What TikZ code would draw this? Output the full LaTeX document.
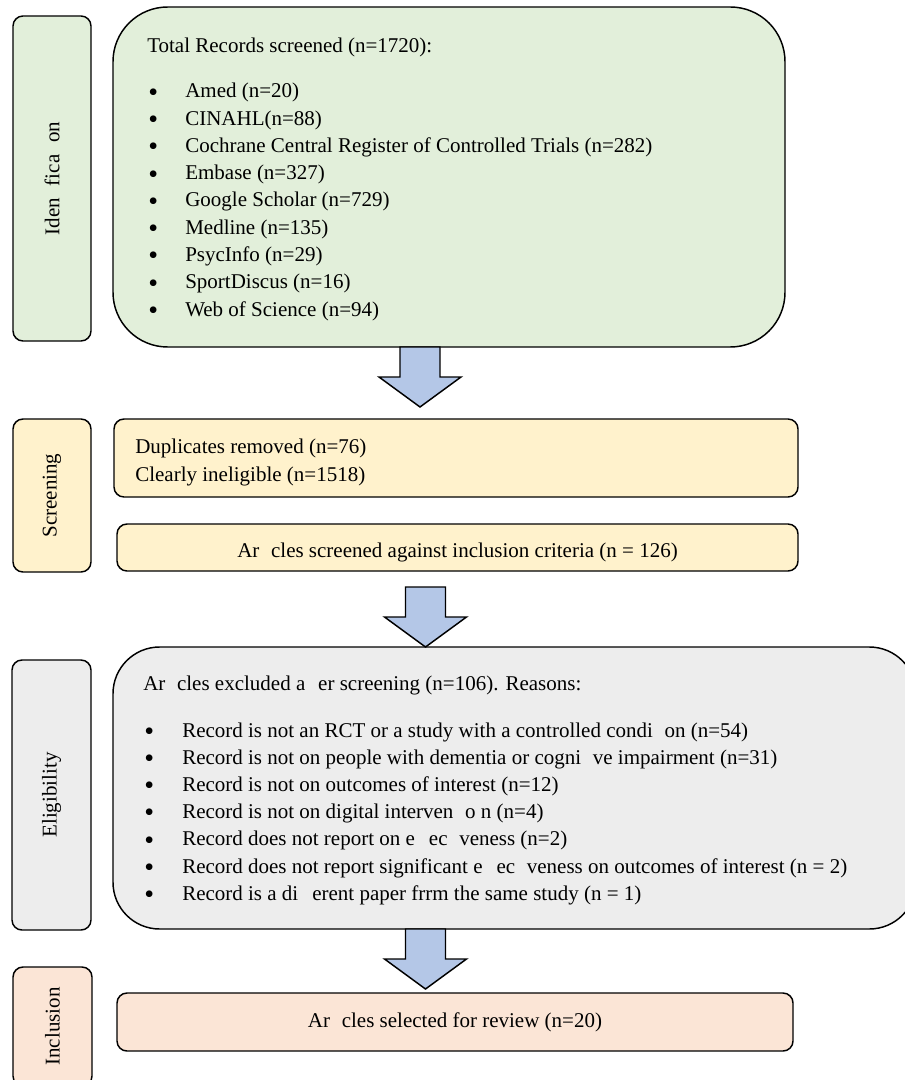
\documentclass[tikz,border=0pt]{standalone}
\usepackage{fontspec}
\setmainfont{Liberation Serif}
\usetikzlibrary{fit}
\newcommand{\gapti}{\hspace{0.556em}}
\newcommand{\gapft}{\hspace{0.611em}}
\newcommand{\gapff}{\hspace{0.666em}}
\newcommand{\bigbullet}{\raisebox{-2.5pt}{\fontsize{21}{21}\selectfont\textbullet}}
\tikzset{
  stagebox/.style={draw, line width=1.1pt, rounded corners=7.5pt, inner sep=0pt},
  bigbox/.style={draw, line width=1.1pt, inner sep=0pt},
  greenfill/.style={fill={rgb, 255:red, 226; green, 239; blue, 218}},
  yellowfill/.style={fill={rgb, 255:red, 255; green, 242; blue, 204}},
  greyfill/.style={fill={rgb, 255:red, 237; green, 237; blue, 237}},
  peachfill/.style={fill={rgb, 255:red, 251; green, 229; blue, 214}},
  blockarrow/.style={draw, line width=1.1pt, line join=miter, fill={rgb, 255:red, 180; green, 199; blue, 231}},
  textline/.style={anchor=base west, inner sep=0pt},
  centerline/.style={anchor=base, inner sep=0pt}
}
\begin{document}
\begin{tikzpicture}[x=0.75pt,y=0.75pt,yscale=-1,xscale=1,font=\fontsize{15.75}{20.4}\selectfont]
\useasboundingbox (0,0) rectangle (905,1080);
% stage labels
\node[stagebox, greenfill, fit={(13,16) (91,341)}] (idlbl) {};
\node[stagebox, yellowfill, fit={(13,419) (91,572)}] (scrlbl) {};
\node[stagebox, greyfill, fit={(12,660) (91,930)}] (eliglbl) {};
\node[stagebox, peachfill, fit={(13,967) (92,1086)}] (incllbl) {};
\node[rotate=90] (idtxt) at (idlbl.center) {Iden\gapti fica\gapti on};
\node[rotate=90] (scrtxt) at (scrlbl.center) {Screening};
\node[rotate=90] (eligtxt) at (eliglbl.center) {Eligibility};
\node[rotate=90] (incltxt) at (incllbl.center) {Inclusion};
% content boxes
\node[bigbox, rounded corners=41pt, greenfill, fit={(113,7) (785,347)}] (records) {};
\node[stagebox, yellowfill, fit={(114,419) (798,497)}] (removed) {};
\node[stagebox, yellowfill, fit={(117,524) (798,571)}] (screened) {};
\node[bigbox, rounded corners=35pt, greyfill, fit={(113,647) (916,929)}] (excluded) {};
\node[stagebox, peachfill, fit={(117,993) (793,1051)}] (selected) {};
% records
\node[textline] (rectitle) at (147,53) {Total Records screened (n=1720):};
\foreach \txt [count=\i] in {{Amed (n=20)}, {CINAHL(n=88)}, {Cochrane Central Register of Controlled Trials (n=282)}, {Embase (n=327)}, {Google Scholar (n=729)}, {Medline (n=135)}, {PsycInfo (n=29)}, {SportDiscus (n=16)}, {Web of Science (n=94)}}
  \node[textline] (rec\i) at (148,{98+27.25*(\i-1)}) {\makebox[27.75pt][l]{\bigbullet}\txt};
% screening
\node[textline] (dup) at (135,453) {Duplicates removed (n=76)};
\node[textline] (inel) at (135,481) {Clearly ineligible (n=1518)};
\node[centerline] (scrtext) at (457.5,557) {Ar\gapti cles screened against inclusion criteria (n = 126)};
% eligibility
\node[textline] (exctitle) at (143,690) {Ar\gapti cles excluded a\gapft er screening (n=106). Reasons:};
\foreach \txt [count=\i] in {{Record is not an RCT or a study with a controlled condi\gapti on (n=54)}, {Record is not on people with dementia or cogni\gapti ve impairment (n=31)}, {Record is not on outcomes of interest (n=12)}, {Record is not on digital interven\gapti o n (n=4)}, {Record does not report on e\gapff ec\gapti veness (n=2)}, {Record does not report significant e\gapff ec\gapti veness on outcomes of interest (n = 2)}, {Record is a di\gapff erent paper frrm the same study (n = 1)}}
  \node[textline] (exc\i) at (144,{737+27.2*(\i-1)}) {\makebox[28.5pt][l]{\bigbullet}\txt};
% inclusion
\node[centerline] (seltext) at (455,1027) {Ar\gapti cles selected for review (n=20)};
% arrows
\coordinate (arr1) at (420,347);
\coordinate (arr2) at (425.5,587);
\coordinate (arr3) at (425.5,929);
\foreach \a in {arr1,arr2,arr3}
  \draw[blockarrow] (\a) ++(-20,0) -- ++(0,30) -- ++(-21,0) -- ++(41,30) -- ++(41,-30) -- ++(-21,0) -- ++(0,-30) -- cycle;
\end{tikzpicture}
\end{document}
